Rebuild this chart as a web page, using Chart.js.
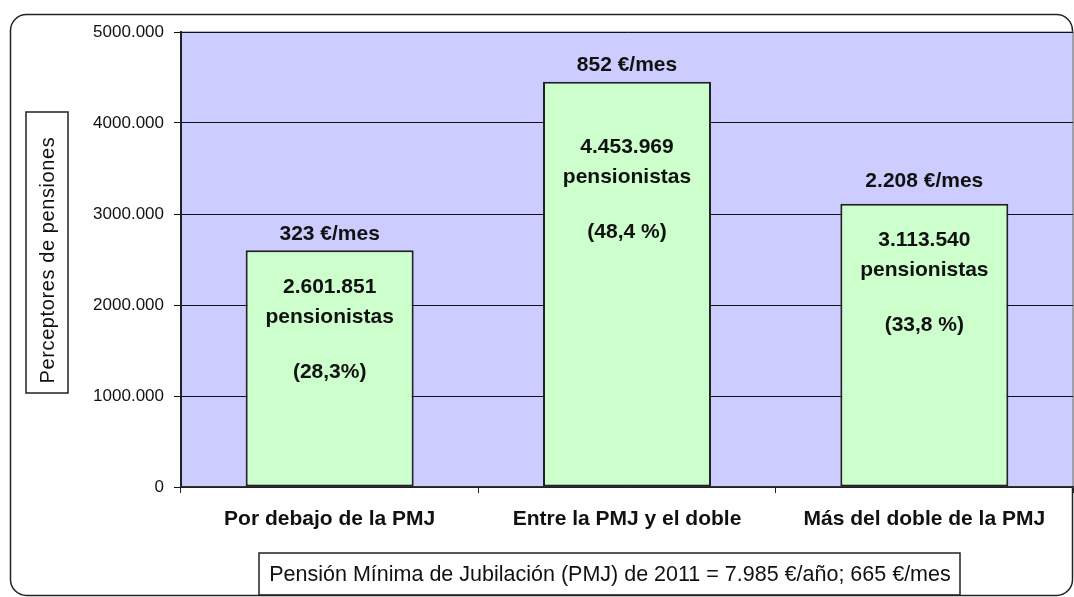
<!DOCTYPE html>
<html lang="es">
<head>
<meta charset="utf-8">
<title>Perceptores de pensiones</title>
<script src="https://cdn.jsdelivr.net/npm/chart.js@4"></script>
<style>
    html, body { margin: 0; padding: 0; background: #ffffff; }
    #wrap { width: 1074px; height: 597px; }
</style>
</head>
<body>
<div id="wrap"><canvas id="pensionChart" width="1074" height="597"></canvas></div>
<script>
// Chart data
const categories = ['Por debajo de la PMJ', 'Entre la PMJ y el doble', 'Más del doble de la PMJ'];
const pensioners = [2601851, 4453969, 3113540];
const pensionerLabels = ['2.601.851', '4.453.969', '3.113.540'];
const shareLabels = ['(28,3%)', '(48,4 %)', '(33,8 %)'];
const monthlyLabels = ['323 €/mes', '852 €/mes', '2.208 €/mes'];
const yTicks = [0, 1000000, 2000000, 3000000, 4000000, 5000000];
const yTickLabels = ['0', '1000.000', '2000.000', '3000.000', '4000.000', '5000.000'];
const axisTitle = 'Perceptores de pensiones';
const footnote = 'Pensión Mínima de Jubilación (PMJ) de 2011 = 7.985 €/año; 665 €/mes';

const FONT = '"Liberation Sans", Arial, sans-serif';

// Frame, plot background and the boxed texts
const decorPlugin = {
    id: 'decor',
    beforeDraw(chart) {
        const ctx = chart.ctx;
        const area = chart.chartArea;
        ctx.save();

        // rounded outer frame
        ctx.strokeStyle = '#222';
        ctx.lineWidth = 1.5;
        ctx.beginPath();
        ctx.roundRect(10.5, 14.5, 1062, 581, 16);
        ctx.stroke();

        // plot background
        ctx.fillStyle = '#ccccff';
        ctx.fillRect(area.left, area.top, area.right - area.left, area.bottom - area.top);
        ctx.strokeStyle = '#777';
        ctx.lineWidth = 1;
        ctx.strokeRect(area.left, area.top, area.right - area.left, area.bottom - area.top);

        // y axis title box
        ctx.strokeStyle = '#222';
        ctx.lineWidth = 1.5;
        ctx.strokeRect(26, 112, 42, 281);
        ctx.translate(47, 260);
        ctx.rotate(-Math.PI / 2);
        ctx.fillStyle = '#111';
        ctx.font = '20px ' + FONT;
        ctx.letterSpacing = '0.6px';
        ctx.textAlign = 'center';
        ctx.textBaseline = 'middle';
        ctx.fillText(axisTitle, 0, 1);
        ctx.restore();

        // footnote box
        ctx.save();
        ctx.strokeStyle = '#222';
        ctx.lineWidth = 1.5;
        ctx.strokeRect(259, 553, 701, 42);
        ctx.fillStyle = '#111';
        ctx.font = '21.5px ' + FONT;
        ctx.textAlign = 'center';
        ctx.textBaseline = 'middle';
        ctx.fillText(footnote, 610, 575);
        ctx.restore();
    }
};

// Texts above and inside each bar
const barTextPlugin = {
    id: 'barText',
    afterDatasetsDraw(chart) {
        const ctx = chart.ctx;
        const bars = chart.getDatasetMeta(0).data;
        const aboveOffset = [-16, -16, -22];
        const insideOffset = [37, 66, 37];
        ctx.save();
        ctx.fillStyle = '#111';
        ctx.textAlign = 'center';
        ctx.textBaseline = 'middle';
        ctx.font = 'bold 21px ' + FONT;
        bars.forEach((bar, i) => {
            ctx.fillText(monthlyLabels[i], bar.x, bar.y + aboveOffset[i]);
            const y0 = bar.y + insideOffset[i];
            ctx.fillText(pensionerLabels[i], bar.x, y0);
            ctx.fillText('pensionistas', bar.x, y0 + 30);
            ctx.fillText(shareLabels[i], bar.x, y0 + 85);
        });
        ctx.restore();
    }
};

const ctx = document.getElementById('pensionChart').getContext('2d');
const chart = new Chart(ctx, {
    type: 'bar',
    data: {
        labels: categories,
        datasets: [{
            data: pensioners,
            backgroundColor: '#ccffcc',
            borderColor: '#222',
            borderWidth: 2,
            borderSkipped: false,
            barPercentage: 0.565,
            categoryPercentage: 1
        }]
    },
    options: {
        responsive: false,
        animation: false,
        devicePixelRatio: 1,
        layout: {
            padding: { top: 32, right: 1, left: 0, bottom: 0 }
        },
        plugins: {
            legend: { display: false },
            tooltip: { enabled: false }
        },
        scales: {
            x: {
                offset: true,
                grid: {
                    offset: true,
                    drawOnChartArea: false,
                    drawTicks: true,
                    tickLength: 6,
                    color: '#222'
                },
                border: { color: '#333', width: 1.5 },
                ticks: {
                    color: '#111',
                    padding: 14,
                    font: { family: FONT, size: 21, weight: 'bold' }
                },
                afterFit: (scale) => { scale.height = 110; }
            },
            y: {
                min: 0,
                max: 5000000,
                afterBuildTicks: (scale) => {
                    scale.ticks = yTicks.map(v => ({ value: v }));
                },
                grid: {
                    color: '#111',
                    lineWidth: 1,
                    tickLength: 7,
                    drawTicks: true
                },
                border: { color: '#222', width: 2 },
                ticks: {
                    color: '#111',
                    padding: 10,
                    font: { family: FONT, size: 17 },
                    callback: (value) => yTickLabels[yTicks.indexOf(value)]
                },
                afterFit: (scale) => { scale.width = 181; }
            }
        }
    },
    plugins: [decorPlugin, barTextPlugin]
});
</script>
</body>
</html>
